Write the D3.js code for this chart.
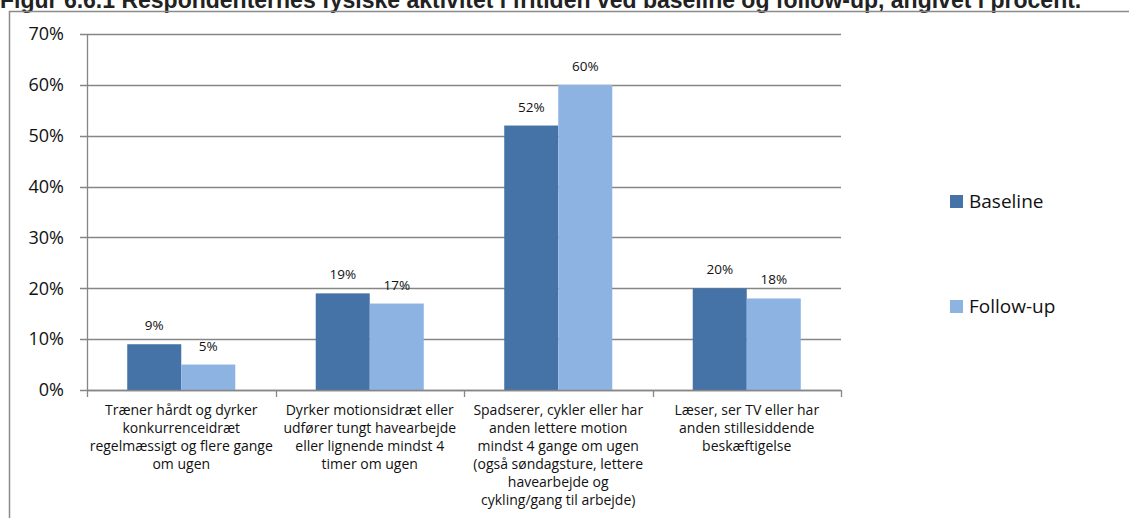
<!DOCTYPE html>
<html>
<head>
<meta charset="utf-8">
<script src="https://cdn.jsdelivr.net/npm/d3@7"></script>
<style>
  body { margin: 0; background: #fff; }
  svg { display: block; }
  text { font-family: "Open Sans", Lato, sans-serif; fill: #111; }
</style>
</head>
<body>
<script>
// chart data
const categories = [
    ["Træner hårdt og dyrker", "konkurrenceidræt", "regelmæssigt og flere gange", "om ugen"],
    ["Dyrker motionsidræt eller", "udfører tungt havearbejde", "eller lignende mindst 4", "timer om ugen"],
    ["Spadserer, cykler eller har", "anden lettere motion", "mindst 4 gange om ugen", "(også søndagsture, lettere", "havearbejde og", "cykling/gang til arbejde)"],
    ["Læser, ser TV eller har", "anden stillesiddende", "beskæftigelse"]
];
const seriesNames = ["Baseline", "Follow-up"];
const baseline = [9, 19, 52, 20];
const followup = [5, 17, 60, 18];
const yTicks = [0, 10, 20, 30, 40, 50, 60, 70];
const title = "Figur 6.6.1 Respondenternes fysiske aktivitet i fritiden ved baseline og follow-up, angivet i procent.";

const colors = ["#4572a7", "#8db3e2"];
const W = 1129, H = 518;

var svg = d3.select("body").append("svg")
    .attr("width", W)
    .attr("height", H);

// title (cut off at the top, like the scan)
svg.append("text")
    .attr("x", 0)
    .attr("y", 8)
    .style("font-family", "'Liberation Sans', Arial, sans-serif")
    .style("font-weight", "bold")
    .style("font-size", "23px")
    .style("fill", "#222")
    .text(title);

// frame
svg.append("path")
    .attr("d", "M9.5," + H + "V11.5H" + W)
    .attr("fill", "none")
    .attr("stroke", "#8a8a8a")
    .attr("stroke-width", 1.5);

const plot = {left: 87, right: 841, top: 34, bottom: 390};

var x = d3.scaleBand()
    .domain(d3.range(categories.length))
    .range([plot.left, plot.right])
    .paddingInner(0)
    .paddingOuter(0);

var x1 = d3.scaleBand()
    .domain(d3.range(seriesNames.length))
    .range([0, x.bandwidth()])
    .paddingOuter(0.745)
    .paddingInner(0);

var y = d3.scaleLinear()
    .domain([0, 70])
    .range([plot.bottom, plot.top]);

var g = svg.append("g");

// gridlines
g.selectAll("line.grid")
    .data(yTicks)
    .enter().append("line")
    .attr("class", "grid")
    .attr("x1", plot.left - 7)
    .attr("x2", plot.right)
    .attr("y1", d => Math.round(y(d)) + 0.5)
    .attr("y2", d => Math.round(y(d)) + 0.5)
    .attr("stroke", "#868686")
    .attr("stroke-width", 1.3);

// y axis labels
g.selectAll("text.ytick")
    .data(yTicks)
    .enter().append("text")
    .attr("class", "ytick")
    .attr("x", 64)
    .attr("y", d => y(d))
    .attr("dy", "0.35em")
    .attr("text-anchor", "end")
    .style("font-size", "18px")
    .text(d => d + "%");

// bars
var series = [baseline, followup];
series.forEach(function (vals, s) {
    g.selectAll("rect.s" + s)
        .data(vals)
        .enter().append("rect")
        .attr("class", "s" + s)
        .attr("x", (d, i) => x(i) + x1(s))
        .attr("width", x1.bandwidth())
        .attr("y", d => y(d))
        .attr("height", d => y(0) - y(d))
        .attr("fill", colors[s]);

    g.selectAll("text.v" + s)
        .data(vals)
        .enter().append("text")
        .attr("class", "v" + s)
        .attr("x", (d, i) => x(i) + x1(s) + x1.bandwidth() / 2)
        .attr("y", d => y(d) - 14)
        .attr("text-anchor", "middle")
        .style("font-size", "13.5px")
        .text(d => d + "%");
});

// axes lines
g.append("line")
    .attr("x1", plot.left + 0.5).attr("x2", plot.left + 0.5)
    .attr("y1", plot.top).attr("y2", plot.bottom)
    .attr("stroke", "#868686").attr("stroke-width", 1.3);
g.append("line")
    .attr("x1", plot.left).attr("x2", plot.right)
    .attr("y1", plot.bottom + 0.5).attr("y2", plot.bottom + 0.5)
    .attr("stroke", "#868686").attr("stroke-width", 1.5);
g.selectAll("line.xtick")
    .data(d3.range(categories.length + 1))
    .enter().append("line")
    .attr("class", "xtick")
    .attr("x1", i => Math.round(plot.left + i * x.step()) + 0.5)
    .attr("x2", i => Math.round(plot.left + i * x.step()) + 0.5)
    .attr("y1", plot.bottom)
    .attr("y2", plot.bottom + 7)
    .attr("stroke", "#868686").attr("stroke-width", 1.3);

// category labels
categories.forEach(function (lines, i) {
    var t = g.append("text")
        .attr("text-anchor", "middle")
        .style("font-size", "14px");
    lines.forEach(function (ln, k) {
        t.append("tspan")
            .attr("x", x(i) + x.bandwidth() / 2)
            .attr("y", 415 + k * 18)
            .text(ln);
    });
});

// legend
var legend = svg.append("g");
seriesNames.forEach(function (name, s) {
    var ly = 201 + s * 105;
    legend.append("rect")
        .attr("x", 950).attr("y", ly - 6)
        .attr("width", 13).attr("height", 13)
        .attr("fill", colors[s]);
    legend.append("text")
        .attr("x", 969).attr("y", ly)
        .attr("dy", "0.35em")
        .style("font-size", "19px")
        .text(name);
});
</script>
</body>
</html>
